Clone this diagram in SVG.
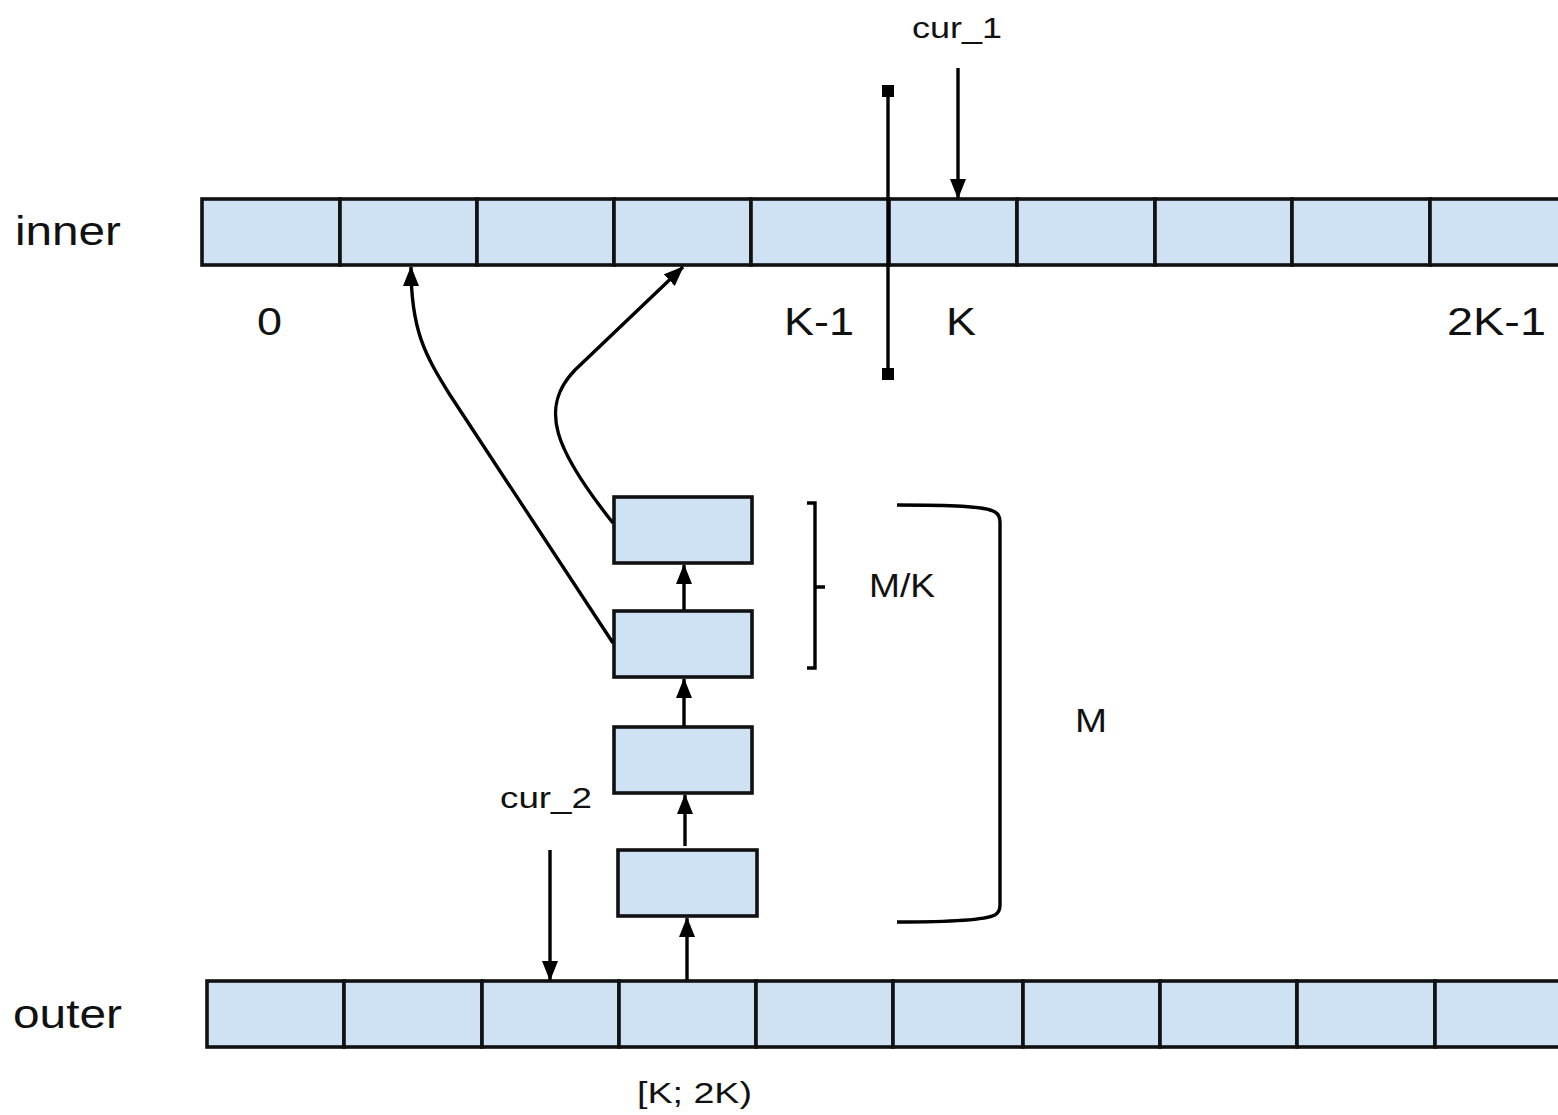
<svg xmlns="http://www.w3.org/2000/svg" width="1558" height="1115" viewBox="0 0 1558 1115">
<style>
.cell{fill:#cfe2f3;stroke:#111;stroke-width:3.6}
.ln{fill:none;stroke:#000;stroke-width:3.4}
.t{font-family:"Liberation Sans",Arial,sans-serif;fill:#111}
</style>
<defs>
<marker id="ah" viewBox="0 0 20 16" refX="19" refY="8" markerWidth="20" markerHeight="16" orient="auto" markerUnits="userSpaceOnUse">
<path d="M0,0 L20,8 L0,16 Z" fill="#000"/>
</marker>
</defs>
<rect width="1558" height="1115" fill="#fff"/>
<g id="inner">
<rect class="cell" x="202" y="199" width="138" height="66"/>
<rect class="cell" x="340" y="199" width="137" height="66"/>
<rect class="cell" x="477" y="199" width="137" height="66"/>
<rect class="cell" x="614" y="199" width="137" height="66"/>
<rect class="cell" x="751" y="199" width="138" height="66"/>
<rect class="cell" x="889" y="199" width="128" height="66"/>
<rect class="cell" x="1017" y="199" width="138" height="66"/>
<rect class="cell" x="1155" y="199" width="137" height="66"/>
<rect class="cell" x="1292" y="199" width="138" height="66"/>
<rect class="cell" x="1430" y="199" width="140" height="66"/>
</g>
<g id="outer">
<rect class="cell" x="207" y="981" width="137" height="66"/>
<rect class="cell" x="344" y="981" width="138" height="66"/>
<rect class="cell" x="482" y="981" width="137" height="66"/>
<rect class="cell" x="619" y="981" width="137" height="66"/>
<rect class="cell" x="756" y="981" width="137" height="66"/>
<rect class="cell" x="893" y="981" width="130" height="66"/>
<rect class="cell" x="1023" y="981" width="137" height="66"/>
<rect class="cell" x="1160" y="981" width="137" height="66"/>
<rect class="cell" x="1297" y="981" width="138" height="66"/>
<rect class="cell" x="1435" y="981" width="135" height="66"/>
</g>
<g id="stack1"><rect class="cell" x="614" y="497" width="138" height="66"/></g>
<g id="stack2"><rect class="cell" x="614" y="611" width="138" height="66"/></g>
<g id="stack3"><rect class="cell" x="614" y="727" width="138" height="66"/></g>
<g id="stack4"><rect class="cell" x="618" y="850" width="139" height="66"/></g>
<g id="divider">
<line class="ln" x1="888" y1="91" x2="888" y2="374"/>
<rect x="882" y="85" width="12" height="12" fill="#000"/>
<rect x="882" y="368" width="12" height="12" fill="#000"/>
</g>
<g id="connectors">
<line class="ln" x1="958" y1="68" x2="958" y2="198" marker-end="url(#ah)"/>
<line class="ln" x1="550" y1="850" x2="550" y2="980" marker-end="url(#ah)"/>
<line class="ln" x1="684" y1="610" x2="684" y2="565" marker-end="url(#ah)"/>
<line class="ln" x1="684" y1="726" x2="684" y2="679" marker-end="url(#ah)"/>
<line class="ln" x1="685" y1="846" x2="685" y2="795" marker-end="url(#ah)"/>
<line class="ln" x1="687" y1="980" x2="687" y2="918" marker-end="url(#ah)"/>
<path class="ln" d="M613 643 L450 395 C425 355 411 330 411 267" marker-end="url(#ah)"/>
<path class="ln" d="M613 523 C555 450 538 408 575 370 L683 267" marker-end="url(#ah)"/>
</g>
<g id="brackets">
<path class="ln" d="M807 503 L815 503 L815 668 L807 668 M815 587 L825 587"/>
<path class="ln" d="M897 505 C950 505 985 506 995 512 Q1000 515 1000 522 L1000 905 Q1000 912 995 915 C985 920 950 922 897 922"/>
</g>
<g id="labels">
<text class="t" x="15" y="245" font-size="40" textLength="106" lengthAdjust="spacingAndGlyphs">inner</text>
<text class="t" x="13" y="1028" font-size="40" textLength="109" lengthAdjust="spacingAndGlyphs">outer</text>
<text class="t" x="257" y="335" font-size="38" textLength="25" lengthAdjust="spacingAndGlyphs">0</text>
<text class="t" x="784" y="335" font-size="38" textLength="70" lengthAdjust="spacingAndGlyphs">K-1</text>
<text class="t" x="946" y="335" font-size="38" textLength="30" lengthAdjust="spacingAndGlyphs">K</text>
<text class="t" x="1447" y="335" font-size="38" textLength="99" lengthAdjust="spacingAndGlyphs">2K-1</text>
<text class="t" x="912" y="38" font-size="30" textLength="90" lengthAdjust="spacingAndGlyphs">cur_1</text>
<text class="t" x="500" y="808" font-size="30" textLength="92" lengthAdjust="spacingAndGlyphs">cur_2</text>
<text class="t" x="869" y="597" font-size="34" textLength="66" lengthAdjust="spacingAndGlyphs">M/K</text>
<text class="t" x="1075" y="732" font-size="34" textLength="32" lengthAdjust="spacingAndGlyphs">M</text>
<text class="t" x="637" y="1103" font-size="30" textLength="115" lengthAdjust="spacingAndGlyphs">[K; 2K)</text>
</g>
</svg>
